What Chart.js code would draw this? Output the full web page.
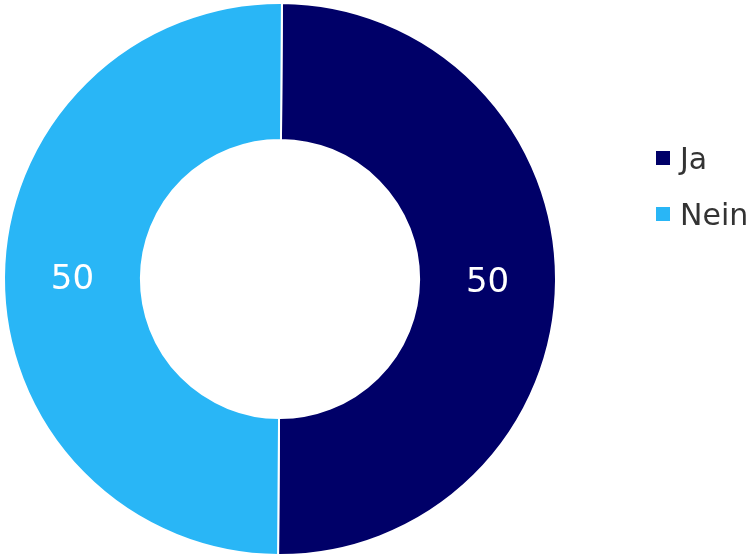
<!DOCTYPE html>
<html>
<head>
<meta charset="utf-8">
<script src="https://cdn.jsdelivr.net/npm/chart.js@4/dist/chart.umd.min.js"></script>
<style>
    html, body { margin: 0; padding: 0; background: #fff; }
    #wrap { position: relative; width: 753px; height: 556px; }
    #legend { position: absolute; left: 656px; top: 130px; font-family: "DejaVu Sans", sans-serif; font-size: 30px; color: #333; }
    .item { display: flex; align-items: center; height: 56px; white-space: nowrap; }
    .box { width: 14px; height: 14px; margin-right: 10px; }
</style>
</head>
<body>
<div id="wrap">
    <canvas id="pie" width="753" height="556"></canvas>
    <div id="legend"></div>
</div>
<script>
(function () {
    'use strict';

    var labels = ['Ja', 'Nein'];
    var values = [50, 50];
    var colors = ['#000068', '#29b6f6'];

    // white value labels in the middle of each ring segment
    var valueLabels = {
        id: 'valueLabels',
        afterDatasetsDraw: function (chart) {
            var ctx = chart.ctx;
            var meta = chart.getDatasetMeta(0);
            ctx.save();
            ctx.fillStyle = '#fff';
            ctx.font = '34px "DejaVu Sans", sans-serif';
            ctx.textAlign = 'center';
            ctx.textBaseline = 'middle';
            meta.data.forEach(function (arc, i) {
                var p = arc.tooltipPosition();
                ctx.fillText(String(values[i]), p.x, p.y + 3);
            });
            ctx.restore();
        }
    };

    new Chart(document.getElementById('pie'), {
        type: 'doughnut',
        data: {
            labels: labels,
            datasets: [{
                data: values,
                backgroundColor: colors,
                borderColor: '#fff',
                borderWidth: 2
            }]
        },
        options: {
            responsive: false,
            animation: false,
            cutout: '50.4%',
            rotation: 0.4,
            layout: { padding: { left: 2, right: 195, top: 2, bottom: 0 } },
            plugins: {
                legend: { display: false },
                tooltip: { enabled: false }
            }
        },
        plugins: [valueLabels]
    });

    var legend = document.getElementById('legend');
    labels.forEach(function (name, i) {
        var row = document.createElement('div');
        row.className = 'item';
        var box = document.createElement('span');
        box.className = 'box';
        box.style.background = colors[i];
        var txt = document.createElement('span');
        txt.textContent = name;
        row.appendChild(box);
        row.appendChild(txt);
        legend.appendChild(row);
    });
})();
</script>
</body>
</html>
